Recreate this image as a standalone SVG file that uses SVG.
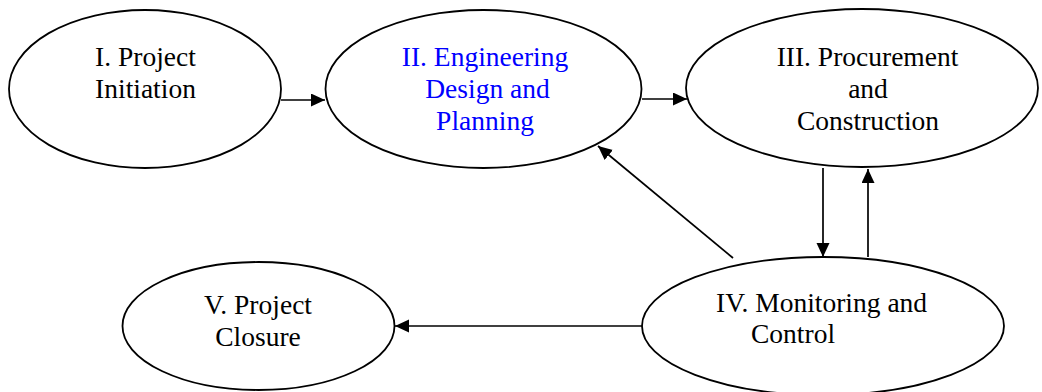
<svg xmlns="http://www.w3.org/2000/svg" width="1042" height="392" viewBox="0 0 1042 392">
  <style>
    .node { fill: #ffffff; stroke: #000000; stroke-width: 1.8; }
    .label { font-family: 'Liberation Serif', 'DejaVu Serif', serif; font-size: 27.5px; fill: #000000; }
    .mid { text-anchor: middle; }
    .blue { fill: #0000ff; }
    .edge { stroke: #000000; stroke-width: 1.7; fill: none; marker-end: url(#arrow); }
  </style>
  <defs>
    <marker id="arrow" markerUnits="userSpaceOnUse" markerWidth="15" markerHeight="14" refX="14" refY="6.5" orient="auto">
      <path d="M0,0 L14,6.5 L0,13 Z" fill="#000000"/>
    </marker>
  </defs>
  <rect width="1042" height="392" fill="#ffffff"/>

  <g id="connectors">
    <line class="edge" x1="281" y1="100" x2="325" y2="100"/>
    <line class="edge" x1="642" y1="99" x2="687" y2="99"/>
    <line class="edge" x1="733" y1="258" x2="598" y2="146"/>
    <line class="edge" x1="823" y1="168" x2="823" y2="257"/>
    <line class="edge" x1="868" y1="257" x2="868" y2="169"/>
    <line class="edge" x1="642" y1="326" x2="395" y2="326"/>
  </g>

  <g id="node-initiation">
    <ellipse class="node" cx="145" cy="89" rx="136" ry="79"/>
    <text class="label mid" x="145.5" y="66">I. Project</text>
    <text class="label mid" x="145.5" y="98">Initiation</text>
  </g>

  <g id="node-design">
    <ellipse class="node" cx="483.5" cy="89" rx="158" ry="79"/>
    <text class="label mid blue" x="485" y="66">II. Engineering</text>
    <text class="label mid blue" x="487.5" y="97.5">Design and</text>
    <text class="label mid blue" x="485" y="129.5">Planning</text>
  </g>

  <g id="node-procurement">
    <ellipse class="node" cx="862" cy="88" rx="176" ry="79"/>
    <text class="label mid" x="867.5" y="65.5">III. Procurement</text>
    <text class="label mid" x="868" y="97.5">and</text>
    <text class="label mid" x="868" y="130">Construction</text>
  </g>

  <g id="node-monitoring">
    <ellipse class="node" cx="823" cy="326" rx="181" ry="69"/>
    <text class="label" x="716" y="311.5">IV. Monitoring and</text>
    <text class="label" x="751" y="343">Control</text>
  </g>

  <g id="node-closure">
    <ellipse class="node" cx="258.5" cy="326" rx="136" ry="64"/>
    <text class="label mid" x="258" y="314">V. Project</text>
    <text class="label mid" x="258" y="346">Closure</text>
  </g>
</svg>
